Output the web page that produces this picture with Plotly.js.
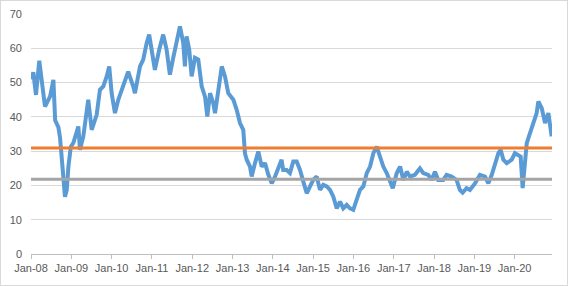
<!DOCTYPE html>
<html>
<head>
<meta charset="utf-8">
<script src="https://cdn.plot.ly/plotly-3.0.1.min.js"></script>
<style>
html,body{margin:0;padding:0;background:#fff;}
#chart{width:568px;height:286px;box-sizing:border-box;border:1px solid #d9d9d9;}
</style>
</head>
<body>
<div id="chart"></div>
<script>
// Series dates and values
const dates = [
'2008-01-01','2008-01-22','2008-02-15','2008-03-16','2008-04-21','2008-05-07','2008-06-22','2008-07-22',
'2008-08-07','2008-09-05','2008-09-20','2008-10-05','2008-10-20','2008-11-04','2008-11-20','2008-12-05',
'2008-12-27','2009-01-19','2009-03-05','2009-03-20','2009-04-19','2009-06-03','2009-07-04','2009-08-18',
'2009-09-17','2009-10-17','2009-11-17','2009-12-10','2010-01-01','2010-01-31','2010-03-02','2010-05-01',
'2010-05-31','2010-07-15','2010-07-31','2010-09-15','2010-10-14','2010-11-14','2010-12-07','2010-12-29',
'2011-01-28','2011-03-08','2011-04-13','2011-05-14','2011-06-13','2011-07-13','2011-08-13','2011-09-12',
'2011-10-12','2011-10-27','2011-11-11','2011-12-05','2011-12-27','2012-01-26','2012-02-25','2012-03-27',
'2012-04-26','2012-05-17','2012-06-11','2012-07-10','2012-07-26','2012-08-25','2012-09-25','2012-10-24',
'2012-11-23','2013-01-08','2013-02-08','2013-03-09','2013-04-08','2013-04-23','2013-05-09','2013-06-08',
'2013-06-23','2013-07-23','2013-08-22','2013-09-22','2013-10-22','2013-11-21','2013-12-22','2014-01-21',
'2014-02-20','2014-03-21','2014-04-05','2014-05-06','2014-06-05','2014-07-05','2014-08-05','2014-09-04',
'2014-10-04','2014-11-04','2014-12-04','2015-01-02','2015-02-02','2015-03-04','2015-04-03','2015-05-04',
'2015-06-03','2015-07-03','2015-08-03','2015-09-02','2015-10-01','2015-11-01','2015-12-01','2015-12-31',
'2016-01-30','2016-03-01','2016-03-31','2016-05-01','2016-05-31','2016-06-30','2016-07-30','2016-08-29',
'2016-09-28','2016-10-29','2016-11-28','2016-12-23','2017-01-28','2017-02-27','2017-03-29','2017-04-29',
'2017-05-28','2017-07-12','2017-08-26','2017-09-25','2017-11-09','2017-12-10','2018-01-09','2018-02-08',
'2018-03-25','2018-04-25','2018-06-09','2018-07-24','2018-08-23','2018-09-17','2018-10-23','2018-11-22',
'2019-01-07','2019-02-21','2019-04-08','2019-05-08','2019-06-08','2019-07-07','2019-08-07','2019-08-28',
'2019-09-21','2019-10-22','2019-12-06','2020-01-04','2020-02-03','2020-02-25','2020-03-14','2020-04-04',
'2020-04-20','2020-05-19','2020-06-18','2020-07-19','2020-08-03','2020-09-03','2020-10-03','2020-11-02',
'2020-12-02'
];
const values = [
51,53,46.4,56.4,47,43,46,50.8,
39,37,34,28.4,23.6,16.7,18.7,25.5,
31.3,32.4,37.2,30.4,34.3,45,36.2,40.6,
47.9,48.9,51.8,54.7,46.9,41.1,45,50.8,
53.2,48.9,46.9,54.7,56.7,61.5,64,59.6,
53.7,59.6,64,59.6,52.3,57.2,61.5,66.4,
61.5,54.7,63.5,59.6,51.8,57.2,56.7,48.9,
45.9,40.1,46.9,44,41.1,47.9,54.7,51.8,
46.9,45,42,38.2,36.2,29.4,27.5,25.5,
22.6,26.5,29.9,25.5,26.5,23.1,20.6,22.6,
25.5,27.5,24.5,24.5,23.6,27,27,24.5,
21.1,17.7,19.7,21.6,22.6,18.7,20.2,19.7,
18.7,16.7,13.3,15.3,13.3,14.3,13.3,12.9,
15.8,18.7,19.7,23.6,25.5,29.4,31.3,28.4,
25.5,23.6,21.1,19.2,23.6,25.5,21.6,24,
22.6,23.1,25,23.6,23.1,21.6,24,21.6,
21.6,23.1,22.6,21.6,18.7,17.9,19.2,18.7,
20.6,23.1,22.6,20.6,23.1,26.5,29.4,30.4,
27.5,26.5,27.5,29.4,28.9,28.4,19.2,25.5,
32.3,35.2,38.2,41.1,44.5,42.5,38.2,41.1,
34.3
];
// Horizontal reference levels
const upperLevel = 30.9;
const lowerLevel = 21.8;
const startDate = '2008-01-01';
const endDate = '2020-12-05';

const traces = [
  {x: dates, y: values, type: 'scatter', mode: 'lines',
   line: {color: '#5B9BD5', width: 4}, hoverinfo: 'skip'},
  {x: [startDate, endDate], y: [upperLevel, upperLevel], type: 'scatter', mode: 'lines',
   line: {color: '#ED7D31', width: 3}, hoverinfo: 'skip'},
  {x: [startDate, endDate], y: [lowerLevel, lowerLevel], type: 'scatter', mode: 'lines',
   line: {color: '#A5A5A5', width: 3}, hoverinfo: 'skip'}
];

const layout = {
  width: 566, height: 284,
  margin: {l: 30, r: 15, t: 13, b: 31, pad: 0},
  paper_bgcolor: '#ffffff', plot_bgcolor: '#ffffff',
  showlegend: false,
  font: {family: 'Liberation Sans, Arial, sans-serif', size: 11, color: '#595959'},
  xaxis: {
    type: 'date', range: [startDate, endDate],
    tick0: '2008-01-01', dtick: 'M12', tickformat: '%b-%y',
    ticks: 'outside', ticklen: 4, tickcolor: '#BFBFBF', tickwidth: 1,
    showgrid: false, zeroline: false,
    showline: true, linecolor: '#BFBFBF', linewidth: 1,
    tickfont: {size: 11, color: '#595959'}
  },
  yaxis: {
    range: [0, 70], dtick: 10, tick0: 0,
    showgrid: true, gridcolor: '#D9D9D9', gridwidth: 1,
    zeroline: false, showline: false, ticks: '',
    ticklabelstandoff: 8,
    tickfont: {size: 11, color: '#595959'}
  }
};

Plotly.newPlot('chart', traces, layout, {displayModeBar: false, staticPlot: true});
</script>
</body>
</html>
